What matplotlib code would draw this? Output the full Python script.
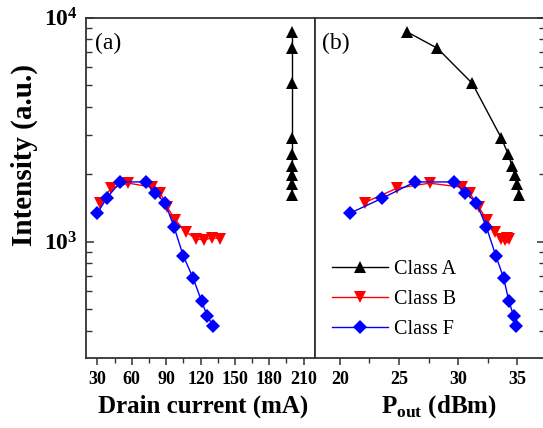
import numpy as np
import matplotlib
matplotlib.use("Agg")
import matplotlib.pyplot as plt
from matplotlib.ticker import LogLocator, NullFormatter, FixedLocator, FixedFormatter

plt.rcParams["font.family"] = ["Liberation Serif", "DejaVu Serif"]
plt.rcParams["mathtext.fontset"] = "custom"
plt.rcParams["mathtext.rm"] = "Liberation Serif"
plt.rcParams["mathtext.bf"] = "Liberation Serif:bold"

# ── data ──
# intensities shared by class A in both panels
class_a_int = [8645, 7290, 5085, 2905, 2450, 2180, 1980, 1800, 1615]
class_a_id = [200, 200, 200, 200, 200, 200, 200, 200, 200]
class_a_pout = [25.65, 28.25, 31.2, 33.65, 34.25, 34.55, 34.8, 35.0, 35.15]

class_b_id = [32, 42, 57, 78, 85, 91, 98, 107, 116, 123, 130, 137]
class_b_pout = [22.1, 24.8, 27.6, 30.3, 31.0, 31.75, 32.45, 33.1, 33.65, 34.0, 34.15, 34.3]
class_b_int = [1495, 1730, 1825, 1750, 1645, 1425, 1250, 1108, 1032, 1017, 1042, 1032]

class_f_id = [30, 38, 50, 72, 80, 89, 97, 105, 113.5, 121, 126, 131]
class_f_pout = [20.85, 23.6, 26.35, 29.65, 30.6, 31.55, 32.4, 33.2, 33.85, 34.3, 34.7, 34.9]
class_f_int = [1340, 1565, 1848, 1848, 1655, 1495, 1160, 863, 690, 542, 466, 421]

W, H = 543, 428
fig = plt.figure(figsize=(W / 100, H / 100), dpi=100)

def px_axes(x0, x1, ytop, ybot):
    return fig.add_axes([x0 / W, 1 - ybot / H, (x1 - x0) / W, (ybot - ytop) / H])

ax1 = px_axes(86, 315, 17.5, 358)
ax2 = px_axes(315, 545, 17.5, 358)

styles = [
    ("Class A", "black", "^", 8.5),
    ("Class B", "red", "v", 8.5),
    ("Class F", "blue", "D", 7.2),
]

for ax, xs in ((ax1, (class_a_id, class_b_id, class_f_id)),
               (ax2, (class_a_pout, class_b_pout, class_f_pout))):
    for (lab, col, mk, ms), x, y in zip(styles, xs, (class_a_int, class_b_int, class_f_int)):
        ax.plot(x, y, color=col, marker=mk, markersize=ms, lw=1.0,
                markeredgewidth=0, label=lab)
    ax.set_yscale("log")
    ax.set_ylim(303, 10000)
    for sp in ax.spines.values():
        sp.set_linewidth(1.3)
        sp.set_color("#333333")
    ax.yaxis.set_major_locator(FixedLocator([1e3, 1e4]))
    ax.yaxis.set_minor_locator(LogLocator(base=10, subs=np.arange(2, 10)))
    ax.yaxis.set_minor_formatter(NullFormatter())
    ax.tick_params(axis="x", which="major", direction="out", length=5, width=1.1,
                   pad=4.5, labelsize=13, color="#333333")
    ax.tick_params(axis="x", which="minor", direction="out", length=3.5, width=1.0,
                   color="#333333")
    ax.tick_params(axis="y", which="major", direction="in", length=6, width=1.1,
                   pad=6, labelsize=17, color="#333333")
    ax.tick_params(axis="y", which="minor", direction="in", length=4, width=1.0,
                   color="#333333")

# left panel
ax1.set_xlim(20, 220)
ax1.set_xticks([30, 60, 90, 120, 150, 180, 210])
ax1.set_xticks([45, 75, 105, 135, 165, 195], minor=True)
ax1.set_xticklabels(["30", "60", "90", "120", "150", "180", "210"], fontweight="bold")
ax1.yaxis.set_major_formatter(FixedFormatter([r"$\mathbf{10^{3}}$", r"$\mathbf{10^{4}}$"]))
ax1.tick_params(axis="y", which="both", left=True, right=False, labelleft=True)
ax1.set_xlabel("Drain current (mA)", fontsize=18, fontweight="bold")
ax1.xaxis.set_label_coords((203.5 - 86) / 229, (358 - 395) / 340.5)
ax1.set_ylabel("Intensity (a.u.)", fontsize=21, fontweight="bold")
ax1.yaxis.set_label_coords((38 - 86) / 229, (358 - 154.5) / 340.5)
ax1.text(0.04, 0.925, "(a)", transform=ax1.transAxes, fontsize=17, va="center", ha="left")

# right panel
ax2.set_xlim(17.9, 37.35)
ax2.set_xticks([20, 25, 30, 35])
ax2.set_xticks([22.5, 27.5, 32.5], minor=True)
ax2.set_xticklabels(["20", "25", "30", "35"], fontweight="bold")
ax2.tick_params(axis="y", which="both", left=False, right=True,
                labelleft=False, labelright=False)
ax2.set_xlabel(r"P$_{\mathbf{out}}$ (dBm)", fontsize=18, fontweight="bold")
ax2.xaxis.set_label_coords((439 - 315) / 230, (358 - 393) / 340.5)
ax2.text(0.03, 0.925, "(b)", transform=ax2.transAxes, fontsize=17, va="center", ha="left")

leg = ax2.legend(loc="upper left", bbox_to_anchor=(331.7 / W, 1 - 260 / H),
                 bbox_transform=fig.transFigure, frameon=False, fontsize=14.5,
                 handlelength=2.8, handletextpad=0.3, labelspacing=0.55,
                 borderpad=0, borderaxespad=0)

fig.savefig("out.png", dpi=100)
